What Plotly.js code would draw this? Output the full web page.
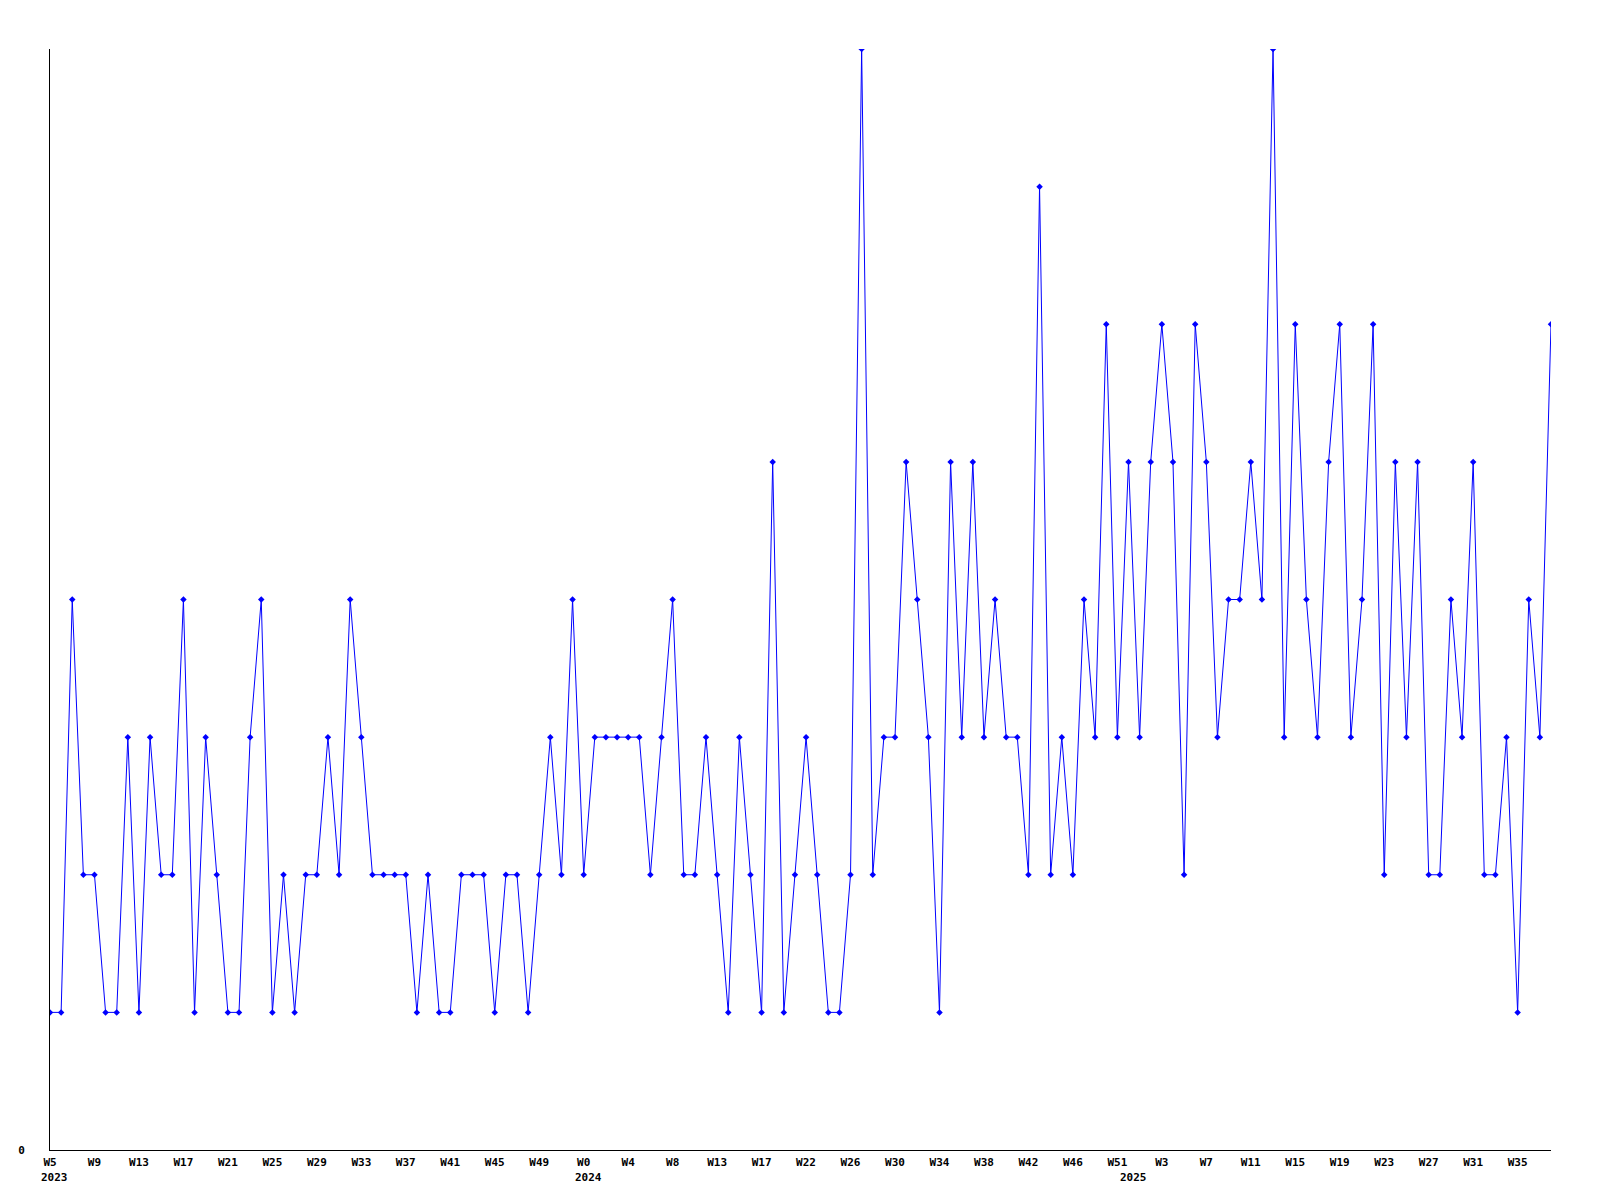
<!DOCTYPE html>
<html>
<head>
<meta charset="utf-8">
<script src="https://cdn.plot.ly/plotly-3.0.1.min.js"></script>
<style>
  html, body { margin: 0; padding: 0; background: #ffffff; }
  #chart { width: 1600px; height: 1200px; }
</style>
</head>
<body>
<div id="chart"></div>
<script>
// Weekly values, one per week, starting 2023 W5
const values = [
  1, 1, 4, 2, 2, 1, 1, 3, 1, 3, 2, 2, 4, 1, 3, 2, 1, 1, 3, 4,
  1, 2, 1, 2, 2, 3, 2, 4, 3, 2, 2, 2, 2, 1, 2, 1, 1, 2, 2, 2,
  1, 2, 2, 1, 2, 3, 2, 4, 2, 3, 3, 3, 3, 3, 2, 3, 4, 2, 2, 3,
  2, 1, 3, 2, 1, 5, 1, 2, 3, 2, 1, 1, 2, 8, 2, 3, 3, 5, 4, 3,
  1, 5, 3, 5, 3, 4, 3, 3, 2, 7, 2, 3, 2, 4, 3, 6, 3, 5, 3, 5,
  6, 5, 2, 6, 5, 3, 4, 4, 5, 4, 8, 3, 6, 4, 3, 5, 6, 3, 4, 6,
  2, 5, 3, 5, 2, 2, 4, 3, 5, 2, 2, 3, 1, 4, 3, 6
];

// Week tick labels, shown every 4th week
const weekLabels = [
  "W5", "W9", "W13", "W17", "W21", "W25", "W29", "W33", "W37", "W41", "W45", "W49",
  "W0", "W4", "W8", "W13", "W17", "W22", "W26", "W30", "W34", "W38", "W42", "W46", "W51",
  "W3", "W7", "W11", "W15", "W19", "W23", "W27", "W31", "W35"
];
const labelStep = 4;

// Year labels and the week index where each year starts
const years = ["2023", "2024", "2025"];
const yearStart = [0, 48, 97];

const xIdx = values.map((_, i) => i);
const tickVals = weekLabels.map((_, k) => k * labelStep);

const font = { family: "DejaVu Sans Mono, Liberation Mono, monospace", size: 11, color: "#000000", weight: "bold" };

const trace = {
  x: xIdx,
  y: values,
  type: "scatter",
  mode: "lines+markers",
  line: { color: "#0000ff", width: 1 },
  marker: { color: "#0000ff", symbol: "diamond", size: 5 },
  hoverinfo: "x+y"
};

const annotations = years.map((yr, i) => ({
  x: yearStart[i],
  y: 0,
  xref: "x",
  yref: "y",
  text: "<b>" + yr + "</b>",
  showarrow: false,
  xanchor: "left",
  yanchor: "middle",
  xshift: -11,
  yshift: -27,
  font: font
}));

const layout = {
  width: 1600,
  height: 1200,
  paper_bgcolor: "#ffffff",
  plot_bgcolor: "#ffffff",
  margin: { l: 50, r: 49, t: 49, b: 50 },
  showlegend: false,
  font: font,
  xaxis: {
    range: [0, values.length - 1],
    showgrid: false,
    zeroline: false,
    showline: true,
    linecolor: "#000000",
    linewidth: 1,
    ticks: "",
    tickmode: "array",
    tickvals: tickVals,
    ticktext: weekLabels.map(t => "<b>" + t + "</b>"),
    tickfont: font,
    ticklabelstandoff: 2
  },
  yaxis: {
    range: [0, 8],
    showgrid: false,
    zeroline: false,
    showline: true,
    linecolor: "#000000",
    linewidth: 1,
    ticks: "",
    tickmode: "array",
    tickvals: [0],
    ticktext: ["<b>0</b>"],
    tickfont: font,
    ticklabelstandoff: 22
  },
  annotations: annotations
};

Plotly.newPlot("chart", [trace], layout, { displayModeBar: false, staticPlot: true });
</script>
</body>
</html>
